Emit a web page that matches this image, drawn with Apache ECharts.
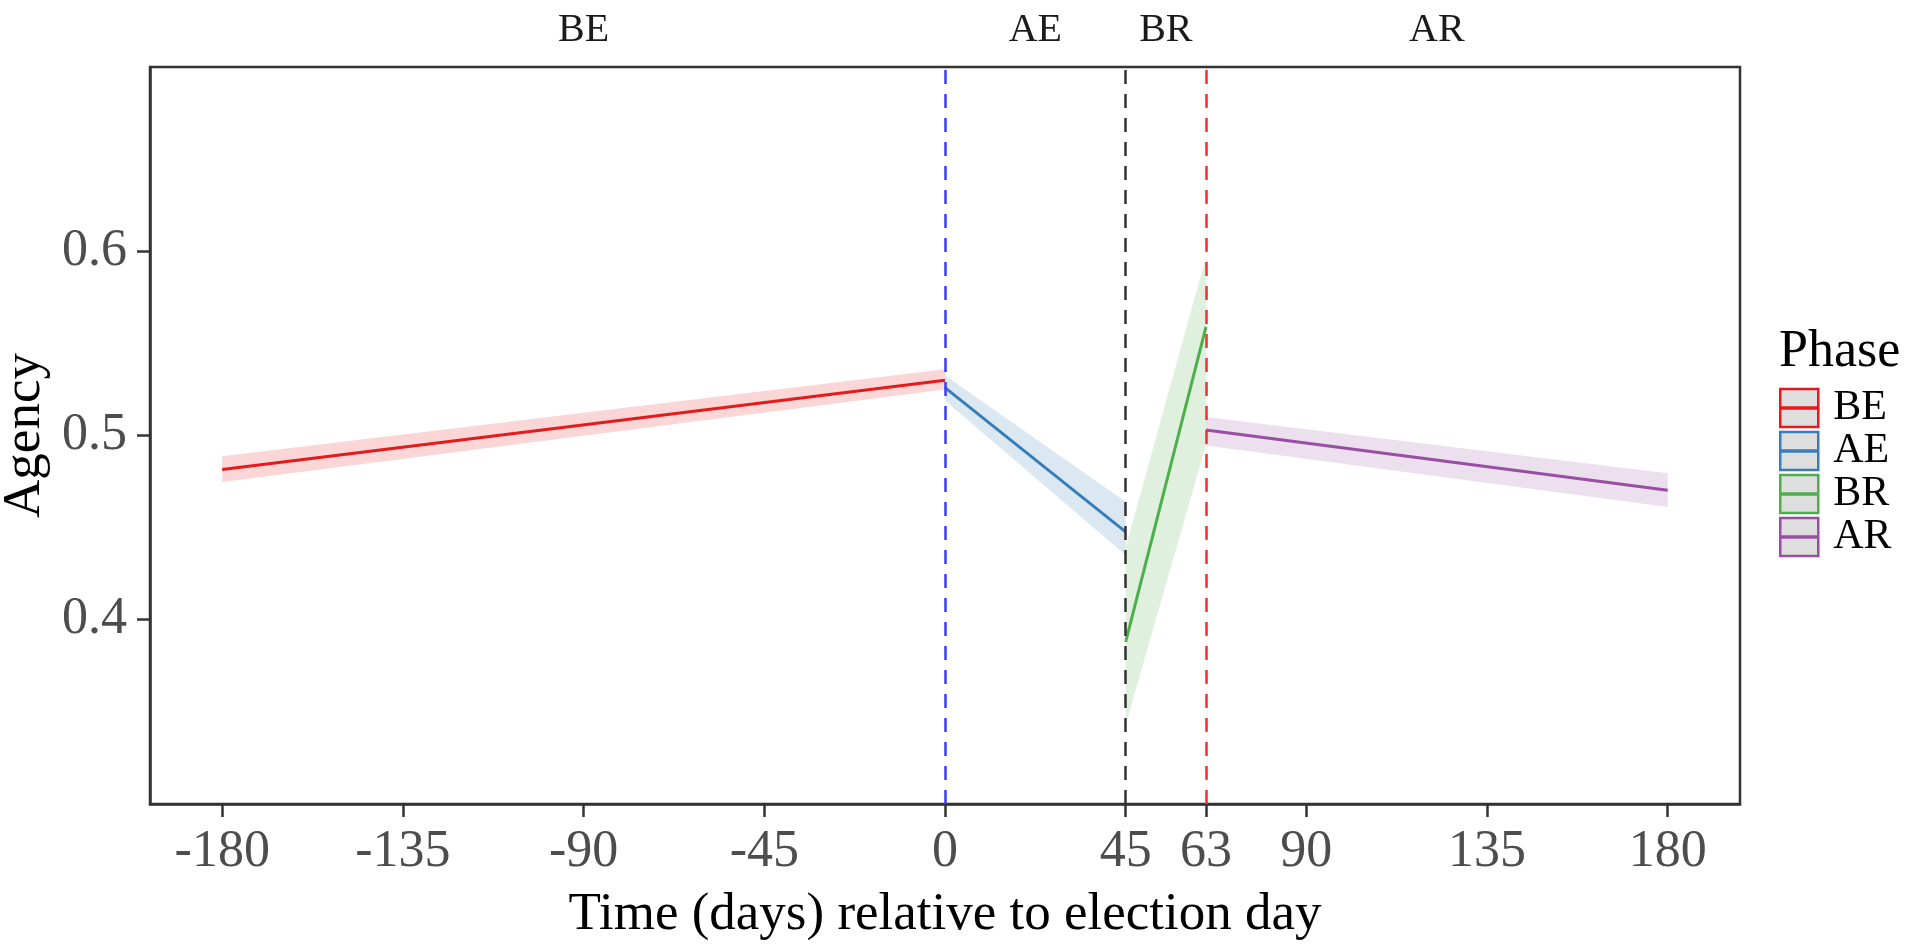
<!DOCTYPE html>
<html>
<head>
<meta charset="utf-8">
<script src="https://cdn.jsdelivr.net/npm/echarts@6/dist/echarts.min.js"></script>
<style>
  html, body { margin: 0; padding: 0; background: #fff; }
  #main { width: 1911px; height: 944px; }
</style>
</head>
<body>
<div id="main"></div>
<script>
// phases and fitted segments
var phases = ['BE', 'AE', 'BR', 'AR'];
var phaseColors = ['#E41A1C', '#377EB8', '#4DAF4A', '#984EA3'];
var startDay = [-180, 0, 45, 65];
var endDay = [0, 45, 65, 180];
var startFit = [0.4815, 0.526, 0.388, 0.503];
var endFit = [0.530, 0.4477, 0.559, 0.4703];
// confidence ribbons
var startLow = [0.4748, 0.519, 0.343, 0.4946];
var startHigh = [0.4887, 0.5325, 0.4395, 0.510];
var endLow = [0.525, 0.435, 0.495, 0.4612];
var endHigh = [0.536, 0.464, 0.597, 0.4795];
// vertical cut lines
var cutDays = [0, 45, 65];
var cutColors = ['#3a3aff', '#333333', '#ff2b2b'];
// axis ticks (the tick drawn at 65 is labelled 63 in the original)
var xTicks = [-180, -135, -90, -45, 0, 45, 65, 90, 135, 180];
var xTickLabels = ['-180', '-135', '-90', '-45', '0', '45', '63', '90', '135', '180'];
var yTicks = [0.4, 0.5, 0.6];

var serif = 'Liberation Serif';
var myChart = echarts.init(document.getElementById('main'));

var midDays = [];
for (var i = 0; i < phases.length; i++) {
  midDays.push((startDay[i] + endDay[i]) / 2);
}

var ribbonData = [];
for (var i = 0; i < phases.length; i++) {
  ribbonData.push([startDay[i], endDay[i], startLow[i], startHigh[i], endLow[i], endHigh[i]]);
}

var series = [];
series.push({
  name: 'ribbon',
  type: 'custom',
  data: ribbonData,
  encode: { x: [0, 1], y: [2, 3, 4, 5] },
  renderItem: function (params, api) {
    var a = api.coord([api.value(0), api.value(2)]);
    var b = api.coord([api.value(0), api.value(3)]);
    var c = api.coord([api.value(1), api.value(5)]);
    var d = api.coord([api.value(1), api.value(4)]);
    return {
      type: 'polygon',
      shape: { points: [a, b, c, d] },
      style: { fill: phaseColors[params.dataIndex], opacity: 0.18 }
    };
  },
  silent: true,
  z: 1
});

for (var i = 0; i < phases.length; i++) {
  var s = {
    name: phases[i],
    type: 'line',
    data: [[startDay[i], startFit[i]], [endDay[i], endFit[i]]],
    showSymbol: false,
    color: phaseColors[i],
    lineStyle: { width: 3, color: phaseColors[i] },
    z: 3
  };
  if (i == 0) {
    s.markLine = {
      silent: true,
      symbol: ['none', 'none'],
      label: { show: false },
      lineStyle: { type: [14, 10], width: 2.5 },
      data: cutDays.map(function (d, k) {
        return { xAxis: d, lineStyle: { color: cutColors[k], type: [14, 10], width: 2.5 } };
      })
    };
  }
  series.push(s);
}

option = {
  animation: false,
  backgroundColor: '#fff',
  title: {
    text: 'Phase',
    left: 1779,
    top: 326,
    padding: 0,
    textStyle: { fontFamily: serif, fontSize: 52, fontWeight: 'normal', color: '#000' }
  },
  legend: {
    orient: 'vertical',
    left: 1779,
    top: 387,
    padding: 0,
    itemWidth: 38,
    itemHeight: 38,
    itemGap: 1,
    selectedMode: false,
    textStyle: { fontFamily: serif, fontSize: 42, color: '#000', lineHeight: 38, padding: [0, 0, 0, 10] },
    data: phases.map(function (p, k) {
      return {
        name: p,
        icon: 'path://M0,0H40V40H0Z M0,19.5H40V20.5H0Z',
        itemStyle: { color: '#dedede', borderColor: phaseColors[k], borderWidth: 2.5 }
      };
    })
  },
  grid: {
    left: 150,
    right: 171,
    top: 67,
    bottom: 140,
    containLabel: false,
    outerBoundsMode: 'none',
    show: true,
    borderColor: '#333',
    borderWidth: 2.5,
    backgroundColor: '#fff'
  },
  xAxis: [
    {
      type: 'value',
      min: -198,
      max: 198,
      name: 'Time (days) relative to election day',
      nameLocation: 'middle',
      nameGap: 85,
      nameTextStyle: { fontFamily: serif, fontSize: 53, color: '#000' },
      axisLine: { show: true, onZero: false, lineStyle: { color: '#333', width: 2.5 } },
      axisTick: { show: true, length: 13, lineStyle: { color: '#333', width: 2.5 }, customValues: xTicks },
      axisLabel: {
        customValues: xTicks,
        margin: 22,
        fontFamily: serif,
        fontSize: 52,
        color: '#4D4D4D',
        formatter: function (v) {
          var k = xTicks.indexOf(v);
          return k >= 0 ? xTickLabels[k] : String(v);
        }
      },
      splitLine: { show: false }
    },
    {
      type: 'value',
      position: 'top',
      min: -198,
      max: 198,
      axisLine: { show: false, onZero: false },
      axisTick: { show: false },
      axisLabel: {
        customValues: midDays,
        margin: 17,
        fontFamily: serif,
        fontSize: 40,
        color: '#1a1a1a',
        formatter: function (v) {
          var k = midDays.indexOf(v);
          return k >= 0 ? phases[k] : '';
        }
      },
      splitLine: { show: false }
    }
  ],
  yAxis: {
    type: 'value',
    min: 0.3,
    max: 0.7,
    name: 'Agency',
    nameLocation: 'middle',
    nameGap: 94,
    nameTextStyle: { fontFamily: serif, fontSize: 53, color: '#000' },
    axisLine: { show: true, onZero: false, lineStyle: { color: '#333', width: 2.5 } },
    axisTick: { show: true, length: 13, lineStyle: { color: '#333', width: 2.5 }, customValues: yTicks },
    axisLabel: {
      customValues: yTicks,
      margin: 23,
      fontFamily: serif,
      fontSize: 52,
      color: '#4D4D4D',
      formatter: function (v) { return v.toFixed(1); }
    },
    splitLine: { show: false }
  },
  series: series
};
myChart.setOption(option, true);
</script>
</body>
</html>
